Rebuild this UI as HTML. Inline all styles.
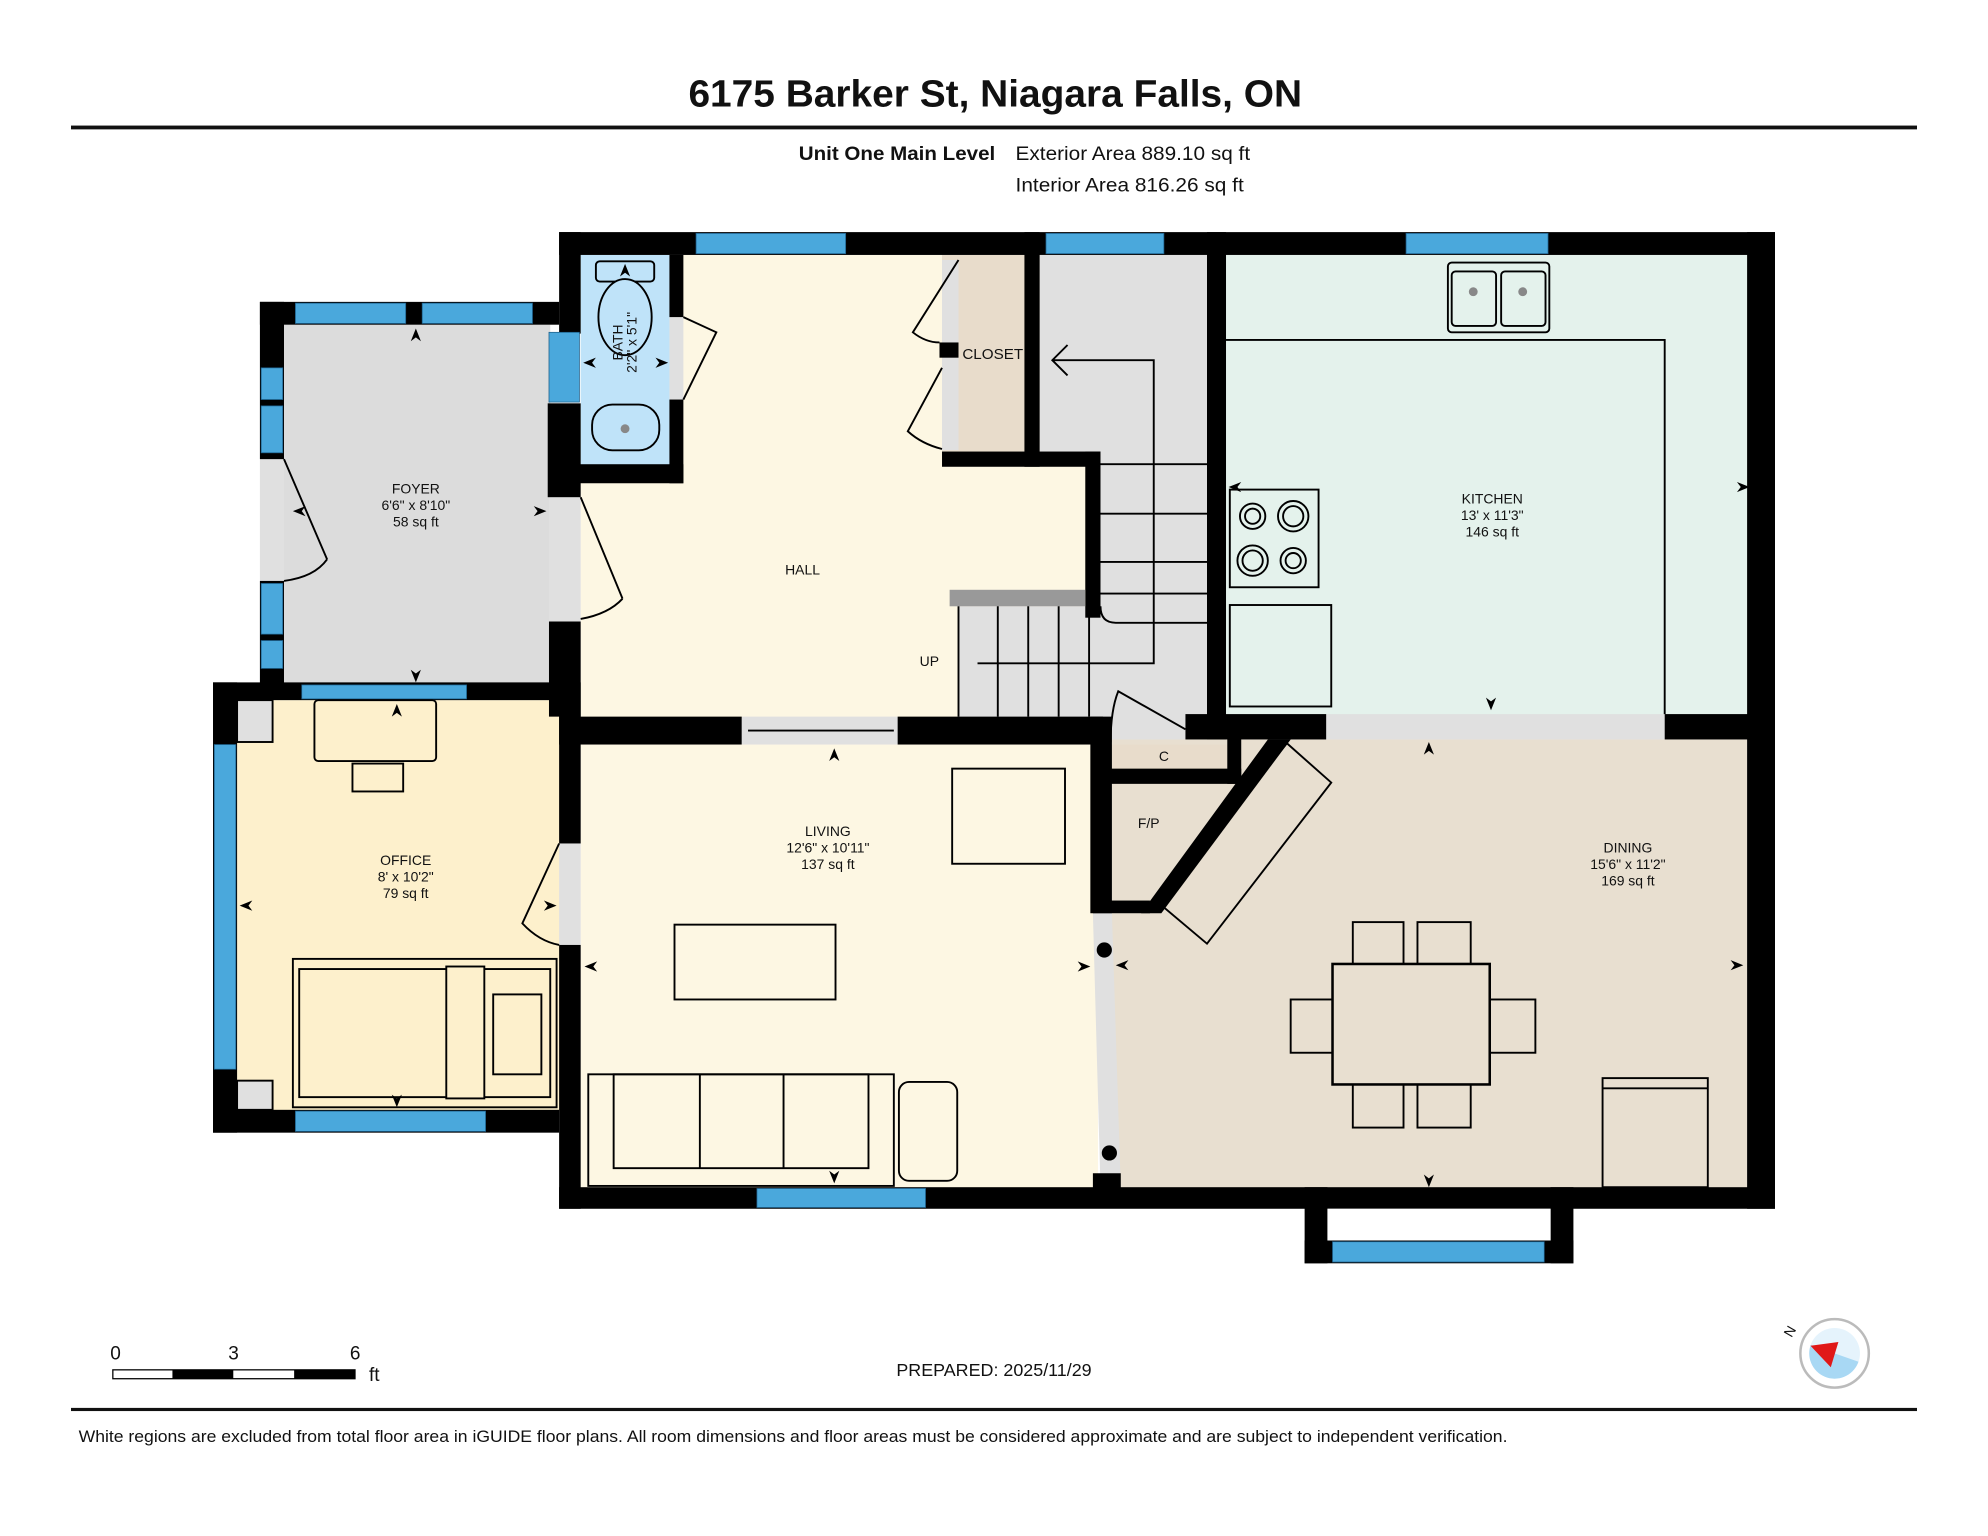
<!DOCTYPE html>
<html><head><meta charset="utf-8"><style>
html,body{margin:0;padding:0;background:#fff}
svg{display:block}
text{font-family:"Liberation Sans",Arial,sans-serif;fill:#111}
</style></head><body>
<svg width="1988" height="1536" viewBox="0 0 1568 1211" preserveAspectRatio="none" xmlns="http://www.w3.org/2000/svg">
<rect width="1568" height="1211" fill="#fff"/>
<text x="543" y="84" font-size="30" font-weight="bold" textLength="484" lengthAdjust="spacingAndGlyphs">6175 Barker St, Niagara Falls, ON</text>
<rect x="56" y="99" width="1456" height="3" fill="#111"/>
<text x="630" y="126" font-size="15" font-weight="bold" textLength="155" lengthAdjust="spacingAndGlyphs">Unit One Main Level</text>
<text x="801" y="126" font-size="15" textLength="185" lengthAdjust="spacingAndGlyphs">Exterior Area 889.10 sq ft</text>
<text x="801" y="151" font-size="15" textLength="180" lengthAdjust="spacingAndGlyphs">Interior Area 816.26 sq ft</text>

<!-- floors -->
<rect x="224" y="256" width="210" height="284" fill="#dcdcdc"/>
<rect x="187" y="552" width="255" height="324" fill="#fdf0cc"/>
<rect x="458" y="201" width="402" height="366" fill="#fdf7e3"/>
<rect x="458" y="201" width="72" height="166" fill="#bfe3f9"/>
<rect x="743" y="201" width="66" height="155" fill="#e8dccb"/>
<rect x="820" y="201" width="134" height="160" fill="#e0e0e0"/>
<rect x="866" y="356" width="88" height="230" fill="#e0e0e0"/>
<rect x="756" y="478" width="112" height="88" fill="#e0e0e0"/>
<rect x="967" y="201" width="415" height="364" fill="#e4f2ec"/>
<rect x="458" y="587" width="408" height="350" fill="#fdf7e3"/>
<rect x="877" y="583" width="501" height="356" fill="#e8dfd0"/>
<rect x="870" y="587" width="98" height="20" fill="#e8dccb"/>
<!-- gaps light grey -->
<rect x="1046" y="563" width="267" height="20" fill="#e0e0e0"/>
<rect x="585" y="565" width="123" height="22" fill="#e0e0e0"/>
<rect x="205" y="362" width="19" height="96" fill="#e0e0e0"/>
<rect x="433" y="392" width="25" height="98" fill="#e0e0e0"/>
<rect x="441" y="665" width="17" height="80" fill="#e0e0e0"/>
<rect x="528" y="250" width="11" height="65" fill="#e0e0e0"/>
<rect x="743" y="205" width="13" height="150" fill="#e0e0e0"/>
<polygon points="862,720 877,720 884,936 868,936" fill="#e0e0e0"/>

<!-- walls -->
<g fill="#000">
<rect x="441" y="183" width="959" height="18"/>
<rect x="205" y="238" width="236" height="18"/>
<rect x="205" y="238" width="19" height="124"/>
<rect x="205" y="458" width="19" height="82"/>
<rect x="441" y="183" width="17" height="80"/>
<rect x="432" y="318" width="26" height="74"/>
<rect x="433" y="490" width="25" height="75"/>
<rect x="441" y="366" width="98" height="15"/>
<rect x="528" y="201" width="11" height="49"/>
<rect x="528" y="315" width="11" height="66"/>
<rect x="168" y="538" width="290" height="14"/>
<rect x="168" y="538" width="19" height="355"/>
<rect x="168" y="875" width="273" height="18"/>
<rect x="441" y="552" width="17" height="113"/>
<rect x="441" y="745" width="17" height="208"/>
<rect x="441" y="565" width="144" height="22"/>
<rect x="708" y="565" width="162" height="22"/>
<rect x="808" y="183" width="12" height="185"/>
<rect x="743" y="356" width="125" height="12"/>
<rect x="856" y="356" width="12" height="131"/>
<rect x="741" y="270" width="15" height="12"/>
<rect x="952" y="183" width="15" height="400"/>
<rect x="935" y="563" width="111" height="20"/>
<rect x="1313" y="563" width="87" height="20"/>
<rect x="1378" y="183" width="22" height="770"/>
<rect x="860" y="565" width="17" height="155"/>
<rect x="441" y="936" width="959" height="17"/>
<rect x="1029" y="936" width="18" height="60"/>
<rect x="1223" y="936" width="18" height="60"/>
<rect x="1029" y="978" width="212" height="18"/>
<rect x="862" y="710" width="45" height="10"/>
<rect x="861" y="606" width="118" height="12"/>
<rect x="968" y="581" width="11" height="37"/>
<polygon points="1000,583 1018,583 916,720 900,720"/>
<rect x="862" y="925" width="22" height="13"/>
</g>
<rect x="1047" y="953" width="176" height="25" fill="#fff"/>
<!-- windows -->
<g fill="#4aa8dc" stroke="#1d5f8a" stroke-width="0.6">
<rect x="549" y="184" width="118" height="16"/>
<rect x="825" y="184" width="93" height="16"/>
<rect x="1109" y="184" width="112" height="16"/>
<rect x="233" y="239" width="87" height="16"/>
<rect x="333" y="239" width="87" height="16"/>
<rect x="206" y="290" width="17" height="25"/>
<rect x="206" y="320" width="17" height="37"/>
<rect x="206" y="460" width="17" height="40"/>
<rect x="206" y="505" width="17" height="22"/>
<rect x="433" y="262" width="24" height="55"/>
<rect x="238" y="540" width="130" height="11"/>
<rect x="169" y="587" width="17" height="256"/>
<rect x="233" y="876" width="150" height="16"/>
<rect x="597" y="937" width="133" height="15"/>
<rect x="1051" y="979" width="167" height="16"/>
</g>
<!-- stairs -->
<g stroke="#000" stroke-width="1.5" fill="none">
<rect x="749" y="465" width="107" height="13" fill="#999" stroke="none"/>
<line x1="868" y1="366" x2="952" y2="366"/><line x1="868" y1="405" x2="952" y2="405"/>
<line x1="868" y1="443" x2="952" y2="443"/><line x1="868" y1="468" x2="952" y2="468"/>
<path d="M868 478 Q868 491 880 491 L952 491"/>
<line x1="756" y1="478" x2="756" y2="565"/><line x1="787" y1="478" x2="787" y2="565"/>
<line x1="811" y1="478" x2="811" y2="565"/><line x1="835" y1="478" x2="835" y2="565"/>
<line x1="859" y1="478" x2="859" y2="565"/>
<path d="M771 523 L910 523 L910 284 L830 284 M842 272 L830 284 L842 296"/>
<!-- doors -->
<path d="M224 362 L258 441 M224 458 Q248 455 258 441"/>
<path d="M458 392 L491 472 M458 488 Q480 484 491 472"/>
<path d="M539 250 L565 262 L539 315"/>
<path d="M756 205 L720 262 Q730 270 741 270"/>
<path d="M743 290 L716 340 Q727 350 743 354"/>
<path d="M441 665 L412 728 Q425 742 441 745"/>
<path d="M876 585 Q876 560 882 545 L935 575"/>
<line x1="590" y1="576" x2="705" y2="576"/>
<!-- furniture -->
<rect x="470" y="206" width="46" height="16" rx="3" fill="#bfe3f9"/>
<ellipse cx="493" cy="250" rx="21" ry="30" fill="#bfe3f9"/>
<rect x="467" y="319" width="53" height="36" rx="16" fill="#bfe3f9"/>
<rect x="1142" y="207" width="80" height="55" rx="3"/>
<rect x="1145" y="214" width="35" height="43" rx="3"/><rect x="1184" y="214" width="35" height="43" rx="3"/>
<path d="M967 268 L1313 268 L1313 563"/>
<rect x="970" y="386" width="70" height="77"/>
<circle cx="988" cy="407" r="10"/><circle cx="988" cy="407" r="6"/>
<circle cx="1020" cy="407" r="12"/><circle cx="1020" cy="407" r="8"/>
<circle cx="988" cy="442" r="12"/><circle cx="988" cy="442" r="8"/>
<circle cx="1020" cy="442" r="10"/><circle cx="1020" cy="442" r="6"/>
<rect x="970" y="477" width="80" height="80"/>
<rect x="248" y="552" width="96" height="48" rx="3"/>
<rect x="278" y="602" width="40" height="22"/>
<rect x="231" y="756" width="208" height="117"/>
<rect x="236" y="764" width="198" height="101"/>
<rect x="352" y="762" width="30" height="104" fill="#fdf0cc"/>
<rect x="389" y="784" width="38" height="63"/>
<rect x="187" y="552" width="28" height="33" fill="#e0e0e0"/>
<rect x="187" y="852" width="28" height="23" fill="#e0e0e0"/>
<rect x="751" y="606" width="89" height="75"/>
<rect x="532" y="729" width="127" height="59"/>
<rect x="464" y="847" width="241" height="88"/>
<rect x="484" y="847" width="201" height="74"/>
<line x1="552" y1="847" x2="552" y2="921"/><line x1="618" y1="847" x2="618" y2="921"/>
<rect x="709" y="853" width="46" height="78" rx="8"/>
<polygon points="1015,586 1050,617 952,744 914,712"/>
<rect x="1051" y="760" width="124" height="95" stroke-width="2"/>
<rect x="1067" y="727" width="40" height="33"/><rect x="1118" y="727" width="42" height="33"/>
<rect x="1067" y="855" width="40" height="34"/><rect x="1118" y="855" width="42" height="34"/>
<rect x="1018" y="788" width="33" height="42"/><rect x="1175" y="788" width="36" height="42"/>
<rect x="1264" y="850" width="83" height="86"/><line x1="1264" y1="858" x2="1347" y2="858"/>
</g>
<g fill="#000">
<circle cx="871" cy="749" r="6"/><circle cx="875" cy="909" r="6"/>
<circle cx="493" cy="338" r="3.5" fill="#888"/>
<circle cx="1162" cy="230" r="3.5" fill="#888"/><circle cx="1201" cy="230" r="3.5" fill="#888"/>
</g>
<!-- labels -->
<g font-size="11" text-anchor="middle">
<text x="328" y="389">FOYER</text><text x="328" y="402">6'6" x 8'10"</text><text x="328" y="415">58 sq ft</text>
<text x="633" y="453">HALL</text>
<text x="733" y="525">UP</text>
<text x="783" y="283" font-size="12">CLOSET</text>
<text x="1177" y="397">KITCHEN</text><text x="1177" y="410">13' x 11'3"</text><text x="1177" y="423">146 sq ft</text>
<text x="320" y="682">OFFICE</text><text x="320" y="695">8' x 10'2"</text><text x="320" y="708">79 sq ft</text>
<text x="653" y="659">LIVING</text><text x="653" y="672">12'6" x 10'11"</text><text x="653" y="685">137 sq ft</text>
<text x="1284" y="672">DINING</text><text x="1284" y="685">15'6" x 11'2"</text><text x="1284" y="698">169 sq ft</text>
<text x="918" y="600">C</text>
<text x="906" y="653">F/P</text>
<text transform="translate(491,270) rotate(-90)">BATH</text>
<text transform="translate(502,270) rotate(-90)">2'2" x 5'1"</text>
</g>
<!-- arrows -->
<g fill="#000">
<path d="M328 259 l-4 10 l4 -3 l4 3z"/><path d="M328 538 l-4 -10 l4 3 l4 -3z"/>
<path d="M231 403 l10 -4 l-3 4 l3 4z"/><path d="M431 403 l-10 -4 l3 4 l-3 4z"/>
<path d="M313 555 l-4 10 l4 -3 l4 3z"/><path d="M313 873 l-4 -10 l4 3 l4 -3z"/>
<path d="M189 714 l10 -4 l-3 4 l3 4z"/><path d="M439 714 l-10 -4 l3 4 l-3 4z"/>
<path d="M658 590 l-4 10 l4 -3 l4 3z"/><path d="M658 933 l-4 -10 l4 3 l4 -3z"/>
<path d="M461 762 l10 -4 l-3 4 l3 4z"/><path d="M860 762 l-10 -4 l3 4 l-3 4z"/>
<path d="M880 761 l10 -4 l-3 4 l3 4z"/><path d="M1375 761 l-10 -4 l3 4 l-3 4z"/>
<path d="M1127 585 l-4 10 l4 -3 l4 3z"/><path d="M1127 936 l-4 -10 l4 3 l4 -3z"/>
<path d="M1176 560 l-4 -10 l4 3 l4 -3z"/>
<path d="M969 384 l10 -4 l-3 4 l3 4z"/><path d="M1380 384 l-10 -4 l3 4 l-3 4z"/>
<path d="M493 208 l-4 10 l4 -3 l4 3z"/>
<path d="M460 286 l10 -4 l-3 4 l3 4z"/><path d="M527 286 l-10 -4 l3 4 l-3 4z"/>
</g>

<!-- scale bar -->
<g font-size="15">
<text x="87" y="1072">0</text><text x="180" y="1072">3</text><text x="276" y="1072">6</text><text x="291" y="1089">ft</text>
</g>
<rect x="89" y="1080" width="191" height="7" fill="#fff" stroke="#000" stroke-width="1"/>
<rect x="136" y="1080" width="48" height="7" fill="#000"/><rect x="232" y="1080" width="48" height="7" fill="#000"/>
<text x="707" y="1085" font-size="14" textLength="154" lengthAdjust="spacingAndGlyphs">PREPARED: 2025/11/29</text>
<!-- compass -->
<circle cx="1447" cy="1067" r="27" fill="#fff" stroke="#bbb" stroke-width="2"/>
<circle cx="1447" cy="1067" r="20" fill="#a8d8f4"/>
<path d="M1447 1067 L1427 1060 A20 20 0 0 1 1467 1074 Z" fill="#fff" opacity="0.7"/>
<polygon points="1428,1061 1450,1058 1444,1078" fill="#e01818"/>
<text x="1413" y="1055" font-size="11" transform="rotate(-60 1413 1055)">N</text>
<rect x="56" y="1110" width="1456" height="2.5" fill="#111"/>
<text x="62" y="1137" font-size="13" textLength="1127" lengthAdjust="spacingAndGlyphs">White regions are excluded from total floor area in iGUIDE floor plans. All room dimensions and floor areas must be considered approximate and are subject to independent verification.</text>
</svg>
</body></html>
